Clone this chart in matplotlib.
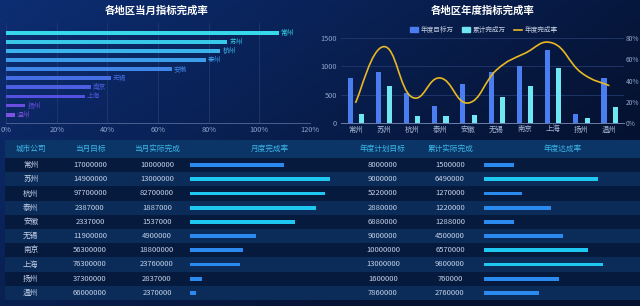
import numpy as np
import matplotlib
matplotlib.use('Agg')
import matplotlib.pyplot as plt
from matplotlib.path import Path
from matplotlib.patches import PathPatch, Rectangle, Patch
from matplotlib.lines import Line2D

plt.rcParams['font.family'] = ['Noto Sans CJK SC', 'DejaVu Sans']

# ─── data ─────────────────────────────────────────────────────────────────────
cities = ['常州', '苏州', '杭州', '泰州', '安徽', '无锡', '南京', '上海', '扬州', '温州']

# top-left: monthly completion rate (%)
month_rate_chart = [107.6, 87.3, 84.6, 78.8, 65.5, 41.3, 33.5, 31.1, 7.6, 3.5]

# top-right: yearly target / cumulative done (万) and rate (%)
year_target_w = [800, 900, 522, 288, 688, 900, 1000, 1300, 160, 786]
year_done_w = [150, 649, 127, 122, 129, 450, 657, 980, 76, 276]
year_rate = [18.8, 72.1, 24.3, 42.4, 18.7, 50.0, 65.7, 75.4, 47.5, 35.1]

# table
tbl_headers = ['城市公司', '当月目标', '当月实际完成', '月度完成率',
               '年度计划目标', '累计实际完成', '年度达成率']
month_target = ['17000000', '14900000', '97700000', '2387000', '2337000',
                '11900000', '56300000', '76300000', '37300000', '66000000']
month_done = ['10000000', '13000000', '82700000', '1887000', '1537000',
              '4900000', '18800000', '23760000', '2837000', '2370000']
month_pct = [58.8, 87.2, 84.6, 79.0, 65.8, 41.2, 33.4, 31.1, 7.6, 3.6]
year_plan = ['8000000', '9000000', '5220000', '2880000', '6880000',
             '9000000', '10000000', '13000000', '1600000', '7860000']
year_actual = ['1500000', '6490000', '1270000', '1220000', '1288000',
               '4500000', '6570000', '9800000', '760000', '2760000']
year_pct = [18.8, 72.1, 24.3, 42.4, 18.7, 50.0, 65.7, 75.4, 47.5, 35.1]

# ─── styles ───────────────────────────────────────────────────────────────────
W, H = 640, 306
BAR_COLORS = ['#36d8ea', '#38c8ea', '#3ab4ea', '#3c9eea', '#3f86e8',
              '#456ee4', '#4c5ee2', '#5450e0', '#6a4ee0', '#7c52e0']
TICK_C = '#8ea4cc'
GRID_C = '#22396e'

fig = plt.figure(figsize=(W / 100, H / 100), dpi=100)


def fax(x0, y0, x1, y1, **kw):
    """axes placed by pixel box (top-left origin)"""
    return fig.add_axes([x0 / W, 1 - y1 / H, (x1 - x0) / W, (y1 - y0) / H], **kw)


# background gradient
bg = fax(0, 0, W, H)
gx, gy = np.meshgrid(np.linspace(0, 1, 160), np.linspace(0, 1, 80))
t = np.clip(gx * 0.8 + gy * 0.5, 0, 1)[..., None]
c1 = np.array([0.05, 0.18, 0.45])
c2 = np.array([0.02, 0.07, 0.19])
bg.imshow(c1 * (1 - t) + c2 * t, aspect='auto', extent=(0, 1, 0, 1), origin='upper')
bg.axis('off')

# ── top-left: monthly rate ────────────────────────────────────────────────────
fig.text(157 / W, 1 - 11 / H, '各地区当月指标完成率', ha='center', va='center',
         fontsize=7.5, fontweight='bold', color='white')
ax1 = fax(6, 23, 310, 123.3)
ax1.set_facecolor('none')
yy = np.arange(len(cities))
ax1.barh(yy, month_rate_chart, height=0.42, color=BAR_COLORS, zorder=3)
for i, (v, c) in enumerate(zip(month_rate_chart, BAR_COLORS)):
    ax1.text(v + 0.8, i, cities[i], va='center', ha='left', fontsize=4.8, color=c)
ax1.set_xlim(0, 120)
ax1.set_ylim(9.95, -1.07)
ax1.set_xticks(range(0, 121, 20))
ax1.set_xticklabels([f'{v}%' for v in range(0, 121, 20)])
ax1.set_yticks([])
ax1.grid(axis='x', color=GRID_C, lw=0.6)
ax1.tick_params(axis='x', length=0, pad=2, labelsize=5.3, labelcolor=TICK_C)
for s in ['top', 'right', 'left']:
    ax1.spines[s].set_visible(False)
ax1.spines['bottom'].set_color('#4a5f90')
ax1.spines['bottom'].set_linewidth(0.7)

# ── top-right: yearly target / done / rate ────────────────────────────────────
fig.text(483 / W, 1 - 11 / H, '各地区年度指标完成率', ha='center', va='center',
         fontsize=7.5, fontweight='bold', color='white')
ax2 = fax(341.3, 38.3, 623.5, 122.7)
ax2.set_facecolor('none')
ax2.bar(yy - 0.19, year_target_w, width=0.18, color='#4a7df0', zorder=3)
ax2.bar(yy + 0.21, year_done_w, width=0.18, color='#6fe6f2', zorder=3)
ax2.set_xlim(-0.5, 9.5)
ax2.set_ylim(0, 1500)
ax2.set_yticks([0, 500, 1000, 1500])
ax2.set_xticks(yy)
ax2.set_xticklabels(cities)
ax2.grid(axis='y', color=GRID_C, lw=0.6)
ax2.tick_params(axis='y', length=0, pad=3, labelsize=5.3, labelcolor=TICK_C)
ax2.tick_params(axis='x', length=0, pad=2, labelsize=5.3, labelcolor='#a8b8d8')
for s in ['top', 'right', 'left']:
    ax2.spines[s].set_visible(False)
ax2.spines['bottom'].set_color('#6a7ea8')
ax2.spines['bottom'].set_linewidth(0.7)

ax2r = ax2.twinx()
ax2r.set_ylim(0, 80)
ax2r.set_yticks(range(0, 81, 20))
ax2r.set_yticklabels([f'{v}%' for v in range(0, 81, 20)])
ax2r.tick_params(axis='y', length=0, pad=1.5, labelsize=4.8, labelcolor=TICK_C)
for s in ax2r.spines.values():
    s.set_visible(False)

# smooth rate line as bezier path through the points
pts = np.column_stack([yy, year_rate]).astype(float)
n = len(pts)
verts, codes = [pts[0]], [Path.MOVETO]
for i in range(n - 1):
    p0, p1, p2, p3 = pts[max(i - 1, 0)], pts[i], pts[i + 1], pts[min(i + 2, n - 1)]
    verts += [p1 + (p2 - p0) * 0.22, p2 - (p3 - p1) * 0.22, p2]
    codes += [Path.CURVE4] * 3
ax2r.add_patch(PathPatch(Path(verts, codes), fill=False, ec='#e8b824', lw=1.2, zorder=4))

handles = [Patch(color='#4a7df0'), Patch(color='#6fe6f2'),
           Line2D([], [], color='#e8b824', lw=1.2)]
fig.legend(handles, ['年度目标万', '累计完成万', '年度完成率'], loc='center',
           bbox_to_anchor=(484 / W, 1 - 30 / H), ncol=3, frameon=False,
           fontsize=4.8, labelcolor='#c0cce0', handlelength=1.2, handleheight=0.8,
           columnspacing=1.2, handletextpad=0.4)

# ── table ─────────────────────────────────────────────────────────────────────
ROW_H = 14.2
top_lim = -0.5 - 18 / ROW_H
tab = fax(0, 140, W, 300)
tab.set_xlim(0, W)
tab.set_ylim(9.5, top_lim)
tab.axis('off')
tab.add_patch(Rectangle((5, top_lim), W - 5, -0.5 - top_lim, color='#0b3467', lw=0))
for i in range(len(cities)):
    tab.add_patch(Rectangle((5, i - 0.5), W - 5, 1, lw=0,
                            color='#061a3e' if i % 2 == 0 else '#0b2b58'))

col_x = [30.7, 90, 157, 270, 383, 450, 563]
hdr_y = (top_lim - 0.5) / 2
for x, h in zip(col_x, tbl_headers):
    tab.text(x, hdr_y, h, ha='center', va='center', fontsize=5.5, color='#3cb8e8')
body_cols = [(col_x[0], cities), (col_x[1], month_target), (col_x[2], month_done),
             (col_x[4], year_plan), (col_x[5], year_actual)]
for x, col in body_cols:
    for i, v in enumerate(col):
        tab.text(x, i, v, ha='center', va='center', fontsize=5.5, color='#c4d2ea')


def rate_bars(x0, x1, vals):
    a = fax(x0, 140, x1, 300)
    a.set_facecolor('none')
    a.set_xlim(0, 100)
    a.set_ylim(9.5, top_lim)
    a.axis('off')
    a.barh(yy, vals, height=0.28,
           color=['#1ec8f0' if v >= 60 else '#2a8af0' for v in vals])


rate_bars(190, 350, month_pct)
rate_bars(484, 642, year_pct)

fig.savefig('out.png', dpi=100, facecolor='#061635')
